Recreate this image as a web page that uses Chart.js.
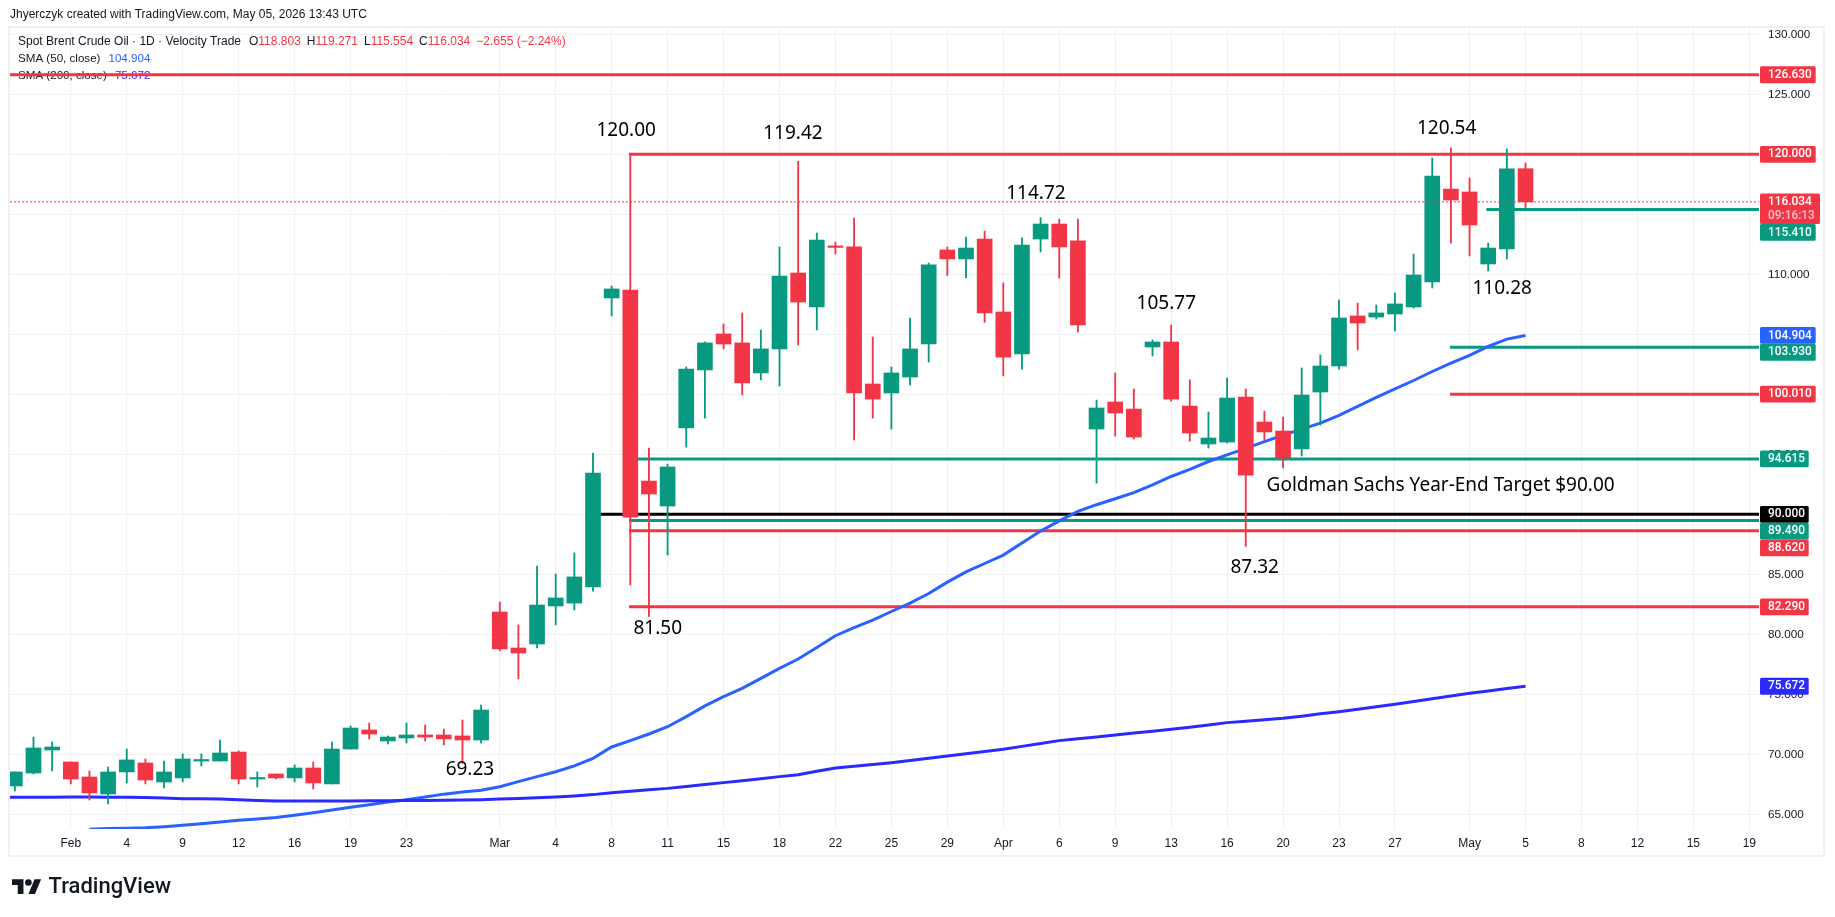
<!DOCTYPE html>
<html>
<head>
<meta charset="utf-8">
<title>Spot Brent Crude Oil</title>
<script src="https://cdn.jsdelivr.net/npm/chart.js@4"></script>
<style>
  html, body { margin: 0; padding: 0; background: #fff; }
  canvas { display: block; }
</style>
</head>
<body>
<canvas id="chart" width="1835" height="917"></canvas>
<script>
// Daily candles, one entry per bar
const opens = [67.36, 68.44, 70.36, 69.36, 68.11, 66.69, 68.53, 69.28, 67.69, 68.03,
  69.44, 69.44, 70.19, 67.94, 68.36, 68.03, 68.86, 67.53, 70.44, 72.03,
  71.11, 71.36, 71.61, 71.61, 71.53, 71.19, 81.86, 78.86, 79.19, 82.36,
  82.6, 83.94, 108.03, 108.69, 92.77, 90.69, 97.19, 102.03, 105.03, 104.28,
  101.78, 103.78, 110.11, 107.28, 112.3, 112.28, 100.86, 100.11, 101.44, 104.19,
  112.03, 111.28, 112.94, 106.86, 103.36, 112.94, 114.19, 112.78, 97.11, 99.36,
  98.77, 103.94, 104.36, 99.02, 95.86, 96.02, 99.77, 97.69, 96.94, 95.44,
  100.19, 102.36, 106.53, 106.44, 106.69, 107.28, 109.36, 117.1, 116.86, 110.86,
  112.11, 118.803];
const highs = [68.53, 71.44, 71.03, 69.36, 68.61, 68.94, 70.44, 69.61, 69.44, 70.03,
  70.03, 71.19, 70.28, 68.53, 68.36, 69.11, 69.36, 71.03, 72.36, 72.61,
  71.53, 72.61, 72.44, 72.11, 72.86, 74.11, 82.69, 80.78, 85.69, 85.03,
  86.78, 95.1, 109.03, 120.0, 95.52, 94.19, 102.28, 104.36, 105.86, 106.78,
  105.36, 112.28, 119.42, 113.44, 112.69, 114.69, 104.78, 102.28, 106.36, 110.94,
  112.28, 113.1, 113.6, 109.28, 113.03, 114.72, 114.6, 114.6, 99.52, 101.78,
  100.44, 104.53, 105.77, 101.2, 98.52, 101.36, 100.44, 98.6, 98.1, 102.19,
  103.28, 107.86, 107.6, 107.44, 108.44, 111.69, 119.69, 120.54, 118.03, 112.6,
  120.44, 119.271];
const lows = [66.94, 68.36, 68.61, 67.53, 66.19, 65.86, 67.61, 67.53, 67.19, 67.69,
  69.03, 69.44, 67.53, 67.28, 67.94, 67.69, 67.11, 67.53, 70.44, 71.28,
  70.86, 70.94, 71.11, 70.78, 69.23, 70.94, 78.61, 76.28, 78.86, 80.78,
  82.03, 83.6, 106.53, 84.11, 81.5, 86.6, 95.6, 98.02, 103.78, 99.94,
  101.2, 100.69, 104.11, 105.36, 111.69, 96.19, 98.02, 97.1, 100.78, 102.69,
  109.9, 109.69, 106.0, 101.53, 102.1, 111.86, 109.69, 105.19, 92.6, 96.52,
  96.27, 103.19, 99.44, 96.1, 95.52, 95.94, 87.32, 96.19, 93.86, 94.86,
  97.44, 102.1, 103.7, 106.28, 105.28, 107.19, 108.86, 112.6, 111.53, 110.28,
  111.28, 115.554];
const closes = [68.53, 70.53, 70.61, 67.94, 66.78, 68.53, 69.53, 67.86, 68.53, 69.61,
  69.53, 70.11, 67.94, 68.03, 68.03, 68.86, 67.61, 70.44, 72.19, 71.69,
  71.44, 71.61, 71.44, 71.28, 71.19, 73.69, 78.78, 78.44, 82.44, 83.03,
  84.78, 93.44, 108.78, 89.77, 91.69, 93.94, 102.11, 104.28, 104.19, 100.95,
  103.78, 109.86, 107.69, 112.86, 112.24, 100.11, 99.6, 101.78, 103.78, 110.78,
  111.28, 112.19, 106.78, 103.1, 112.44, 114.19, 112.28, 105.78, 98.86, 98.44,
  96.44, 104.36, 99.6, 96.77, 96.36, 99.69, 93.27, 96.86, 94.69, 99.94,
  102.36, 106.36, 105.94, 106.78, 107.53, 109.94, 118.19, 116.19, 114.11, 112.19,
  118.78, 116.034];

// Moving averages, null where the line is below the visible range
const sma50 = [null, null, null, null, 63.75, 63.82, 63.84, 63.88, 63.97, 64.08,
  64.22, 64.36, 64.5, 64.6, 64.73, 64.92, 65.12, 65.35, 65.58, 65.8,
  66.02, 66.22, 66.45, 66.68, 66.85, 67.0, 67.3, 67.72, 68.14, 68.55,
  69.03, 69.66, 70.61, 71.14, 71.69, 72.3, 73.14, 74.03, 74.8, 75.5,
  76.33, 77.16, 77.94, 78.9, 79.88, 80.55, 81.19, 81.9, 82.6, 83.4,
  84.35, 85.2, 85.9, 86.6, 87.6, 88.6, 89.45, 90.25, 90.8, 91.3,
  91.8, 92.45, 93.15, 93.75, 94.4, 94.95, 95.5, 96.05, 96.6, 97.1,
  97.6, 98.25, 99.0, 99.75, 100.45, 101.15, 101.9, 102.6, 103.25, 104.0,
  104.6, 104.904];
const sma200 = [66.42, 66.42, 66.43, 66.44, 66.44, 66.43, 66.42, 66.39, 66.35, 66.3,
  66.29, 66.28, 66.22, 66.16, 66.11, 66.1, 66.1, 66.1, 66.11, 66.12,
  66.13, 66.14, 66.16, 66.18, 66.2, 66.22, 66.27, 66.32, 66.38, 66.44,
  66.53, 66.64, 66.8, 66.92, 67.04, 67.16, 67.32, 67.48, 67.64, 67.8,
  67.97, 68.14, 68.3, 68.58, 68.86, 69.0, 69.15, 69.3, 69.48, 69.67,
  69.86, 70.05, 70.24, 70.42, 70.66, 70.9, 71.14, 71.3, 71.45, 71.61,
  71.77, 71.92, 72.08, 72.25, 72.45, 72.64, 72.76, 72.88, 73.0, 73.18,
  73.37, 73.55, 73.75, 73.96, 74.17, 74.4, 74.63, 74.85, 75.08, 75.28,
  75.48, 75.672];
// SMA 200 of the bar just off the left edge, so the line runs out of the plot
const sma200BeforeFirstBar = 66.42;

// Drawn horizontal levels: price, first bar they start from, colour
const levelPrices = [126.63, 120.0, 115.41, 103.93, 100.01, 94.615, 90.0, 89.49, 88.62, 82.29];
const levelStarts = [-0.26, 32.93, 78.9, 76.95, 76.95, 32.93, 31, 32.93, 32.93, 32.93];
const levelColors = ["red", "red", "green", "green", "red", "green", "black", "green", "red", "red"];

// Price texts written on the chart
const noteTexts = ["120.00", "119.42", "114.72", "105.77", "120.54", "110.28", "87.32", "81.50", "69.23",
  "Goldman Sachs Year-End Target $90.00"];
const noteBars = [32.78, 41.72, 54.75, 61.74, 76.77, 79.75, 66.48, 34.47, 24.4, 76.45];
const notePrices = [121.94, 121.75, 116.75, 107.52, 122.17, 108.83, 85.58, 80.5, 68.69, 92.36];

// Axis ticks
const priceTicks = [65, 70, 75, 80, 85, 90, 95, 100, 105, 110, 115, 120, 125, 130];
const timeTickBars = [3, 6, 9, 12, 15, 18, 21, 26, 29, 32, 35, 38, 41, 44, 47, 50, 53, 56, 59, 62, 65, 68, 71, 74, 78, 81, 84, 87, 90, 93];
const timeTickLabels = ["Feb", "4", "9", "12", "16", "19", "23", "Mar", "4", "8", "11", "15", "18", "22", "25", "29", "Apr", "6", "9", "13", "16", "20", "23", "27", "May", "5", "8", "12", "15", "19"];

const lastClose = 116.034;
const countdown = "09:16:13";
const lastBar = closes.length - 1;

const COLORS = {
  red: "#f23645",
  green: "#089981",
  black: "#000000",
  sma50: "#2962ff",
  sma200: "#2a2aff",
  text: "#131722",
  grid: "#f0f1f3",
};
const UI_FONT = '"Liberation Sans", sans-serif';
const NOTE_FONT = '19px "Noto Sans", sans-serif';

const barIndexes = closes.map((_, i) => i);

function candleColor(i) {
  return closes[i] >= opens[i] ? COLORS.green : COLORS.red;
}

// Datasets: levels at the back, then moving averages, candles on top
const levelDatasets = levelPrices.map((price, i) => ({
  type: "line",
  data: [{ x: levelStarts[i], y: price }, { x: 93.52, y: price }],
  borderColor: COLORS[levelColors[i]],
  borderWidth: 3,
  pointRadius: 0,
  order: 5,
}));

function smaDataset(points, color) {
  return {
    type: "line",
    data: points,
    borderColor: color,
    borderWidth: 3,
    pointRadius: 0,
    tension: 0,
    order: 4,
  };
}

const sma50Points = barIndexes.map((i) => ({ x: i, y: sma50[i] }));
const sma200Points = [{ x: -1, y: sma200BeforeFirstBar }, ...barIndexes.map((i) => ({ x: i, y: sma200[i] }))];

const wicks = {
  type: "bar",
  data: barIndexes.map((i) => ({ x: i, y: [lows[i], highs[i]] })),
  backgroundColor: barIndexes.map(candleColor),
  barThickness: 1.2,
  grouped: false,
  order: 3,
};

const bodies = {
  type: "bar",
  data: barIndexes.map((i) => ({ x: i, y: [opens[i], closes[i]] })),
  backgroundColor: barIndexes.map(candleColor),
  barThickness: 15,
  minBarLength: 1.5,
  grouped: false,
  order: 2,
};

const priceLine = {
  type: "line",
  data: [{ x: -0.26, y: lastClose }, { x: 93.52, y: lastClose }],
  borderColor: COLORS.red,
  borderWidth: 1,
  borderDash: [2, 2],
  pointRadius: 0,
  order: 1,
};

// Outer frame of the chart
function drawFrame(ctx) {
  ctx.save();
  ctx.strokeStyle = COLORS.grid;
  ctx.lineWidth = 2;
  ctx.strokeRect(9, 27, 1815, 829);
  ctx.restore();
}

// Writes pieces of text one after the other
function writeRun(ctx, x, y, pieces) {
  pieces.forEach((p) => {
    ctx.fillStyle = p.color;
    ctx.fillText(p.text, x, y);
    x += ctx.measureText(p.text).width + (p.gap || 0);
  });
}

function drawHeader(ctx) {
  const sma50Text = sma50[lastBar].toFixed(3);
  const sma200Text = sma200[lastBar].toFixed(3);
  ctx.save();
  ctx.textBaseline = "middle";
  ctx.font = "12px " + UI_FONT;
  ctx.fillStyle = COLORS.text;
  ctx.fillText("Jhyerczyk created with TradingView.com, May 05, 2026 13:43 UTC", 10, 15);

  writeRun(ctx, 18, 42, [
    { text: "Spot Brent Crude Oil · 1D · Velocity Trade", color: COLORS.text, gap: 8 },
    { text: "O", color: COLORS.text },
    { text: "118.803", color: COLORS.red, gap: 6 },
    { text: "H", color: COLORS.text },
    { text: "119.271", color: COLORS.red, gap: 6 },
    { text: "L", color: COLORS.text },
    { text: "115.554", color: COLORS.red, gap: 6 },
    { text: "C", color: COLORS.text },
    { text: "116.034", color: COLORS.red, gap: 6 },
    { text: "−2.655 (−2.24%)", color: COLORS.red },
  ]);
  ctx.font = "11.6px " + UI_FONT;
  writeRun(ctx, 18, 59, [
    { text: "SMA (50, close)", color: COLORS.text, gap: 8 },
    { text: sma50Text, color: COLORS.sma50 },
  ]);
  writeRun(ctx, 18, 76, [
    { text: "SMA (200, close)", color: COLORS.text, gap: 8 },
    { text: sma200Text, color: COLORS.sma200 },
  ]);
  ctx.restore();
}

function drawNotes(chart) {
  const { ctx, scales } = chart;
  ctx.save();
  ctx.font = NOTE_FONT;
  ctx.textAlign = "center";
  ctx.textBaseline = "middle";
  ctx.fillStyle = "#000";
  noteTexts.forEach((text, i) => {
    ctx.fillText(text, scales.x.getPixelForValue(noteBars[i]), scales.y.getPixelForValue(notePrices[i]));
  });
  ctx.restore();
}

// Boxes on the price axis, pushed down when they would overlap
function drawPriceLabels(chart) {
  const { ctx, scales, chartArea } = chart;
  const boxes = levelPrices.map((price, i) => ({ price, color: COLORS[levelColors[i]] }));
  boxes.push({ price: sma50[lastBar], color: COLORS.sma50 });
  boxes.push({ price: sma200[lastBar], color: COLORS.sma200 });
  boxes.push({ price: lastClose, color: COLORS.red, extra: countdown });
  boxes.sort((a, b) => b.price - a.price);

  const left = chartArea.right + 1;
  let bottom = 0;
  ctx.save();
  ctx.textBaseline = "middle";
  boxes.forEach((box) => {
    const text = box.price.toFixed(3);
    const height = box.extra ? 30.5 : 16.8;
    const top = Math.max(scales.y.getPixelForValue(box.price) - 8.4, bottom);
    const width = box.extra ? 60 : (text.length > 6 ? 55.7 : 48.7);
    ctx.fillStyle = box.color;
    ctx.beginPath();
    ctx.roundRect(left, top, width, height, 1.5);
    ctx.fill();
    ctx.font = "500 11.9px Roboto, sans-serif";
    ctx.fillStyle = "#fff";
    ctx.fillText(text, left + 8, top + 8.6);
    if (box.extra) {
      ctx.fillStyle = "rgba(255,255,255,0.7)";
      ctx.fillText(box.extra, left + 8, top + 22.8);
    }
    bottom = top + height;
  });
  ctx.restore();
}

function drawLogo(ctx) {
  ctx.save();
  ctx.fillStyle = "#131722";
  ctx.translate(12, 876);
  ctx.scale(0.82, 0.82);
  ctx.fill(new Path2D("M14 22H7V11H0V4h14v18zM28 22h-8l7.5-18h8L28 22z"));
  ctx.beginPath();
  ctx.arc(20, 8, 4, 0, Math.PI * 2);
  ctx.fill();
  ctx.restore();

  ctx.save();
  ctx.fillStyle = "#131722";
  ctx.textBaseline = "middle";
  ctx.font = '500 22px Roboto, sans-serif';
  ctx.fillText("TradingView", 48.5, 887);
  ctx.restore();
}

const chartDecor = {
  id: "chartDecor",
  beforeDraw(chart) {
    drawFrame(chart.ctx);
  },
  beforeDatasetsDraw(chart) {
    drawHeader(chart.ctx);
  },
  afterDraw(chart) {
    drawNotes(chart);
    drawPriceLabels(chart);
    drawLogo(chart.ctx);
  },
};

new Chart(document.getElementById("chart"), {
  data: {
    datasets: [
      ...levelDatasets,
      smaDataset(sma200Points, COLORS.sma200),
      smaDataset(sma50Points, COLORS.sma50),
      wicks,
      bodies,
      priceLine,
    ],
  },
  plugins: [chartDecor],
  options: {
    responsive: false,
    devicePixelRatio: 1,
    animation: false,
    events: [],
    layout: { padding: { left: 10, top: 28, right: 10, bottom: 61 } },
    plugins: { legend: { display: false }, tooltip: { enabled: false } },
    scales: {
      x: {
        type: "linear",
        offset: false,
        min: -0.26,
        max: 93.52,
        afterBuildTicks(scale) {
          scale.ticks = timeTickBars.map((value) => ({ value }));
        },
        afterFit(scale) {
          scale.height = 27;
        },
        grid: { color: COLORS.grid, offset: false, drawTicks: false },
        border: { display: false },
        ticks: {
          color: COLORS.text,
          font: { family: UI_FONT, size: 12 },
          padding: 7,
          maxRotation: 0,
          autoSkip: false,
          callback(value) {
            return timeTickLabels[timeTickBars.indexOf(value)];
          },
        },
      },
      y: {
        position: "right",
        min: 63.775,
        max: 130.525,
        afterBuildTicks(scale) {
          scale.ticks = priceTicks.map((value) => ({ value }));
        },
        afterFit(scale) {
          scale.width = 66;
        },
        grid: { color: COLORS.grid, drawTicks: false },
        border: { display: false },
        ticks: {
          color: COLORS.text,
          font: { family: UI_FONT, size: 11.7 },
          padding: 9,
          autoSkip: false,
          callback(value) {
            return value.toFixed(3);
          },
        },
      },
    },
  },
});
</script>
</body>
</html>
